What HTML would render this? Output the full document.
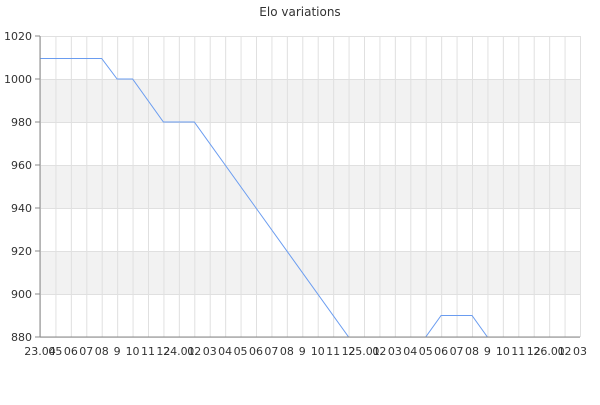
<!DOCTYPE html><html><head><style>body{margin:0;background:#fff}</style></head><body>
<svg width="600" height="400" xmlns="http://www.w3.org/2000/svg" font-family="DejaVu Sans, sans-serif">
<rect width="600" height="400" fill="#fff"/>
<text x="300" y="16" text-anchor="middle" font-size="12" fill="#333">Elo variations</text>
<g fill="#f2f2f2">
<rect x="40" y="79" width="540" height="43"/>
<rect x="40" y="165" width="540" height="43"/>
<rect x="40" y="251" width="540" height="43"/>
</g>
<g stroke="#e0e0e0" stroke-width="1" id="g"></g>
<g font-size="11" fill="#333" id="t"></g>
<polyline fill="none" stroke="#6a9cf0" stroke-width="1" points="40,58.5 101.7,58.5 117.1,79 132.6,79 163.4,122 194.3,122 348.6,337 425.7,337 441.1,315.5 472,315.5 487.4,337 580,337"/>
<line x1="40" y1="337" x2="580" y2="337" stroke="#888"/>
<line x1="40" y1="36" x2="40" y2="337" stroke="#888"/>
<script>
var ns="http://www.w3.org/2000/svg",g=document.getElementById('g'),t=document.getElementById('t');
var labs=["23.04","05","06","07","08","9","10","11","12","24.01","02","03","04","05","06","07","08","9","10","11","12","25.01","02","03","04","05","06","07","08","9","10","11","12","26.01","02","03"];
for(var i=0;i<36;i++){var x=40+i*540/35;
var l=document.createElementNS(ns,'line');l.setAttribute('x1',x+.5);l.setAttribute('x2',x+.5);l.setAttribute('y1',36);l.setAttribute('y2',337);g.appendChild(l);
var tx=document.createElementNS(ns,'text');tx.setAttribute('x',x);tx.setAttribute('y',355);tx.setAttribute('text-anchor','middle');tx.textContent=labs[i];t.appendChild(tx);}
for(var v=880;v<=1020;v+=20){var y=337-(v-880)*301/140;
var l=document.createElementNS(ns,'line');l.setAttribute('x1',40);l.setAttribute('x2',580);l.setAttribute('y1',y+.5);l.setAttribute('y2',y+.5);g.appendChild(l);
var k=document.createElementNS(ns,'line');k.setAttribute('x1',35);k.setAttribute('x2',40);k.setAttribute('y1',y);k.setAttribute('y2',y);k.setAttribute('stroke','#888');t.appendChild(k);
var tx=document.createElementNS(ns,'text');tx.setAttribute('x',32);tx.setAttribute('y',y+4);tx.setAttribute('text-anchor','end');tx.textContent=v;t.appendChild(tx);}
</script>
</svg></body></html>
